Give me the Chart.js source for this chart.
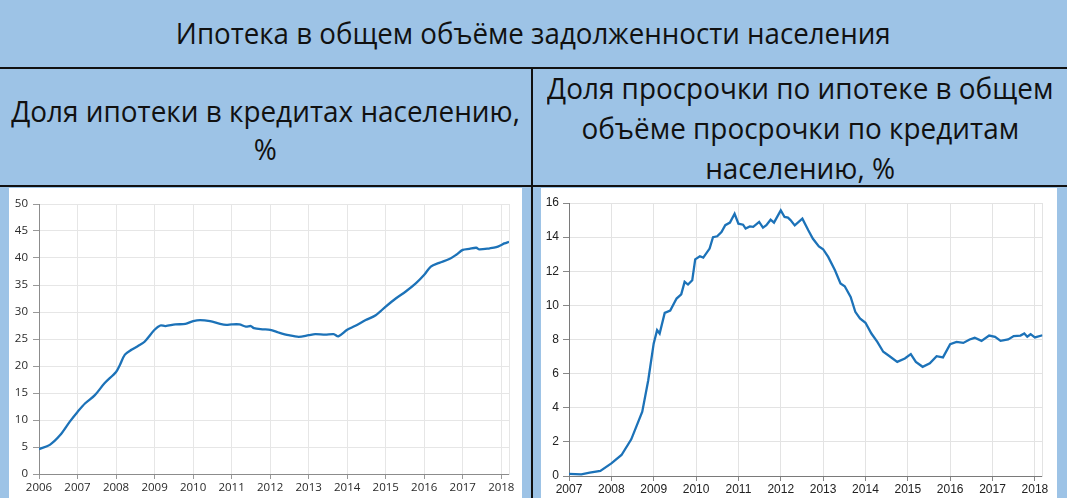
<!DOCTYPE html>
<html>
<head>
<meta charset="utf-8">
<script src="https://cdn.jsdelivr.net/npm/chart.js"></script>
<style>
  html, body { margin: 0; padding: 0; }
  body { width: 1067px; height: 498px; background: #9dc3e6; position: relative; overflow: hidden;
         font-family: "Open Sans", sans-serif; color: #111; }
  .hline { position: absolute; left: 0; width: 1067px; height: 2px; background: #111; }
  .vline { position: absolute; left: 531px; top: 68px; width: 2px; height: 430px; background: #111; }
  .title { position: absolute; left: 0; top: 0; width: 1067px; height: 68px; line-height: 66px;
           text-align: center; font-size: 29px; white-space: nowrap; }
  .sub { position: absolute; top: 70px; height: 116px; display: flex; flex-direction: column;
         align-items: center; justify-content: center; text-align: center; font-size: 30px; white-space: nowrap; }
  .title span { display: inline-block; transform: scaleX(0.955); transform-origin: center; }
  .sub span { display: inline-block; transform: scaleX(0.93); transform-origin: center; line-height: 40px; }
  .panel { position: absolute; top: 188px; height: 310px; background: #fff; }
</style>
</head>
<body>
<div class="title"><span>Ипотека в общем объёме задолженности населения</span></div>
<div class="hline" style="top:67px"></div>
<div class="vline"></div>
<div class="sub" style="left:0; width:531px; padding-top:4px; box-sizing:border-box">
  <span style="line-height:38px">Доля ипотеки в кредитах населению,</span><span style="line-height:38px">%</span></div>
<div class="sub" style="left:533px; width:534px">
  <span>Доля просрочки по ипотеке в общем</span><span>объёме просрочки по кредитам</span><span>населению, %</span></div>
<div class="hline" style="top:185px"></div>
<div class="panel" style="left:9px; width:513px"><canvas id="leftChart"></canvas></div>
<div class="panel" style="left:541px; width:516px"><canvas id="rightChart"></canvas></div>

<script>
// Доля ипотеки в кредитах населению, %
const mortgageDates = [2006.0, 2006.28, 2006.55, 2006.8, 2007.0, 2007.2, 2007.45, 2007.7, 2008.0, 2008.1,
  2008.23, 2008.4, 2008.57, 2008.74, 2009.0, 2009.15, 2009.28, 2009.54, 2009.8, 2010.0,
  2010.18, 2010.44, 2010.7, 2010.86, 2011.0, 2011.2, 2011.37, 2011.5, 2011.58, 2011.8,
  2012.0, 2012.22, 2012.48, 2012.74, 2013.0, 2013.17, 2013.43, 2013.65, 2013.77, 2014.0,
  2014.2, 2014.48, 2014.74, 2015.0, 2015.26, 2015.52, 2015.78, 2016.0, 2016.17, 2016.39,
  2016.65, 2016.83, 2017.0, 2017.17, 2017.35, 2017.43, 2017.7, 2017.87, 2018.0, 2018.08, 2018.2];
const mortgageShare = [4.6, 5.4, 7.2, 9.7, 11.5, 13.1, 14.6, 16.8, 18.9, 20.2,
  22.1, 23.0, 23.7, 24.5, 26.7, 27.5, 27.4, 27.7, 27.8, 28.3,
  28.5, 28.3, 27.8, 27.6, 27.7, 27.7, 27.3, 27.4, 27.0, 26.8,
  26.7, 26.2, 25.7, 25.4, 25.7, 25.9, 25.8, 25.9, 25.5, 26.7,
  27.4, 28.5, 29.4, 31.0, 32.5, 33.8, 35.3, 36.9, 38.4, 39.1,
  39.8, 40.6, 41.5, 41.7, 41.9, 41.6, 41.8, 42.0, 42.4, 42.7, 43.0];

// Доля просрочки по ипотеке в общем объёме просрочки, %
const overdueDates = [2007.0, 2007.29, 2007.49, 2007.74, 2008.0, 2008.24, 2008.47, 2008.73, 2008.87, 2009.0,
  2009.08, 2009.14, 2009.26, 2009.39, 2009.54, 2009.65, 2009.73, 2009.81, 2009.91, 2009.98,
  2010.09, 2010.17, 2010.32, 2010.4, 2010.5, 2010.6, 2010.69, 2010.8, 2010.91, 2011.0,
  2011.11, 2011.17, 2011.27, 2011.35, 2011.49, 2011.58, 2011.66, 2011.76, 2011.84, 2012.0,
  2012.09, 2012.17, 2012.23, 2012.33, 2012.51, 2012.65, 2012.76, 2012.9, 2013.0, 2013.12,
  2013.28, 2013.41, 2013.51, 2013.65, 2013.76, 2013.87, 2014.0, 2014.14, 2014.28, 2014.42,
  2014.57, 2014.75, 2014.93, 2015.07, 2015.19, 2015.35, 2015.52, 2015.68, 2015.83, 2016.0,
  2016.15, 2016.31, 2016.46, 2016.58, 2016.74, 2016.92, 2017.06, 2017.19, 2017.37, 2017.5,
  2017.66, 2017.75, 2017.82, 2017.9, 2018.0, 2018.18];
const overdueShare = [0.12, 0.1, 0.2, 0.3, 0.74, 1.23, 2.15, 3.77, 5.6, 7.77,
  8.55, 8.35, 9.56, 9.7, 10.4, 10.65, 11.38, 11.22, 11.47, 12.7,
  12.88, 12.8, 13.33, 14.0, 14.05, 14.3, 14.7, 14.85, 15.37, 14.79,
  14.73, 14.5, 14.63, 14.6, 14.89, 14.56, 14.7, 15.02, 14.85, 15.57,
  15.18, 15.14, 15.0, 14.69, 15.08, 14.4, 13.9, 13.46, 13.29, 12.84,
  12.06, 11.28, 11.12, 10.5, 9.62, 9.23, 8.98, 8.35, 7.86, 7.28,
  7.02, 6.69, 6.89, 7.14, 6.69, 6.4, 6.6, 7.02, 6.95, 7.73,
  7.86, 7.8, 8.0, 8.1, 7.92, 8.23, 8.16, 7.92, 8.0, 8.2,
  8.23, 8.35, 8.16, 8.31, 8.12, 8.25];

const lineColor = '#1c72b8';

function toPoints(xs, ys) {
  return xs.map((x, i) => ({ x: x, y: ys[i] }));
}

function makeChart(id, cfg) {
  return new Chart(document.getElementById(id), {
    type: 'line',
    data: {
      datasets: [{
        data: toPoints(cfg.xs, cfg.ys),
        borderColor: lineColor,
        borderWidth: 2.3,
        pointRadius: 0,
        tension: cfg.tension,
        fill: false
      }]
    },
    options: {
      responsive: true,
      maintainAspectRatio: false,
      animation: false,
      layout: { padding: cfg.padding },
      plugins: { legend: { display: false }, tooltip: { enabled: false } },
      scales: {
        x: {
          type: 'linear',
          min: cfg.xMin,
          max: cfg.xMax,
          afterFit: s => { s.height = cfg.xHeight; },
          grid: { color: cfg.gridColor, tickColor: cfg.tickColor, tickLength: 5 },
          border: { color: cfg.axisColor },
          ticks: {
            stepSize: 1,
            includeBounds: false,
            padding: cfg.xPad,
            color: cfg.textColor,
            font: cfg.font,
            maxRotation: 0,
            callback: v => String(v)
          }
        },
        y: {
          min: 0,
          max: cfg.yMax,
          afterFit: s => { s.width = cfg.yWidth; },
          grid: { color: cfg.gridColor, tickColor: cfg.tickColor, tickLength: 6 },
          border: { color: cfg.axisColor },
          ticks: { stepSize: cfg.yStep, padding: cfg.yPad, color: cfg.textColor, font: cfg.font }
        },
        yRight: {
          position: 'right',
          min: 0,
          max: cfg.yMax,
          afterFit: s => { s.width = 0; },
          grid: { display: false },
          border: { color: cfg.gridColor },
          ticks: { display: false }
        }
      }
    }
  });
}

makeChart('leftChart', {
  xs: mortgageDates, ys: mortgageShare, tension: 0.3,
  xMin: 2006, xMax: 2018.2, yMax: 50, yStep: 5,
  padding: { top: 16, right: 13, left: 0, bottom: 0 },
  xHeight: 24, yWidth: 30, xPad: 2, yPad: 5,
  gridColor: '#e6e6e6', tickColor: '#999', axisColor: '#8c8c8c', textColor: '#2a2a2a',
  font: { family: '"Open Sans", sans-serif', size: 11.5 }
});

makeChart('rightChart', {
  xs: overdueDates, ys: overdueShare, tension: 0,
  xMin: 2007, xMax: 2018.18, yMax: 16, yStep: 2,
  padding: { top: 15, right: 14.5, left: 0, bottom: 0 },
  xHeight: 22, yWidth: 28, xPad: 1, yPad: 4,
  gridColor: '#e3e3e3', tickColor: '#888', axisColor: '#7a7a7a', textColor: '#222',
  font: { family: '"Liberation Sans", Arial, sans-serif', size: 12 }
});
</script>
</body>
</html>
